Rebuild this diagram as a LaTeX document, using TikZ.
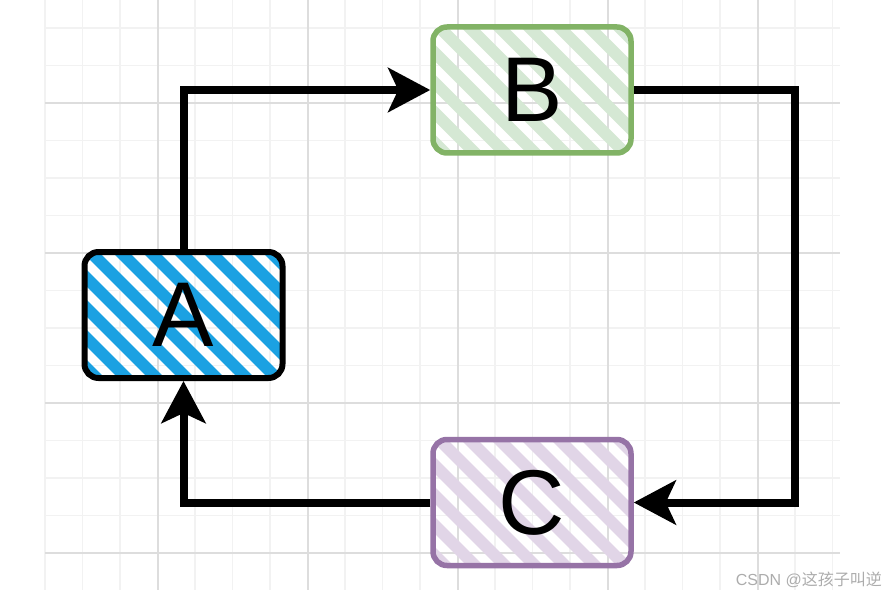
\documentclass[tikz,border=0pt]{standalone}
\usepackage{fontspec}
\setmainfont{Liberation Sans}
\newfontfamily\cjkfont{Noto Sans CJK SC}
\usepackage{xcolor}
\usepackage{tikz}
\usetikzlibrary{arrows.meta, positioning, calc}
\definecolor{fillA}{HTML}{1BA1E2}
\definecolor{fillB}{HTML}{D5E8D4}
\definecolor{lineB}{HTML}{82B366}
\definecolor{fillC}{HTML}{E1D5E7}
\definecolor{lineC}{HTML}{9673A6}
\definecolor{gridmajor}{HTML}{DDDDDD}
\definecolor{gridminor}{HTML}{F2F2F2}
\tikzset{
  hatch/.style={path picture={\foreach \t in {-330,-300,...,330} \draw[#1, line width=12pt, line cap=round] ($(path picture bounding box.center)+(\t-160,-160)$) -- ++(320,320);}},
  box/.style={rectangle, rounded corners=14pt, line width=5.5pt, minimum width=198pt, minimum height=126pt, font=\fontsize{92}{92}\selectfont, inner sep=0pt},
  arr/.style={-{Stealth[length=42pt, width=44pt, inset=10pt]}, line width=8pt},
  minorline/.style={gridminor, line width=1.5pt},
  majorline/.style={gridmajor, line width=1.5pt},
}
\begin{document}
\begin{tikzpicture}[x=1pt, y=-1pt]
\useasboundingbox (0,0) rectangle (886,596);
% grid
\foreach \x in {45,82.5,...,833} \draw[minorline] (\x,0) -- (\x,590);
\foreach \y in {28,65.5,...,580} \draw[minorline] (45,\y) -- (840,\y);
\foreach \x in {158,308,...,760} \draw[majorline] (\x,0) -- (\x,590);
\foreach \y in {103,253,...,560} \draw[majorline] (45,\y) -- (840,\y);
% boxes
\node[box, draw=black, line width=6pt, hatch=fillA] (A) at (183.5,315) {A};
\node[box, draw=lineB, hatch=fillB] (B) at (532,90) {B};
\node[box, draw=lineC, hatch=fillC, below=281pt of B] (C) {C};
\coordinate (bend) at (795,90);
\draw[arr] (A.north) |- (B.west);
\draw[arr] (B.east) -- (bend) |- (C.east);
\draw[arr] (C.west) -| (A.south);
\node[anchor=east, text=gray!65, font=\fontsize{16}{16}\selectfont, inner sep=0pt] (mark) at (882,580) {CSDN @{\cjkfont 这孩子叫逆}};
\end{tikzpicture}
\end{document}
